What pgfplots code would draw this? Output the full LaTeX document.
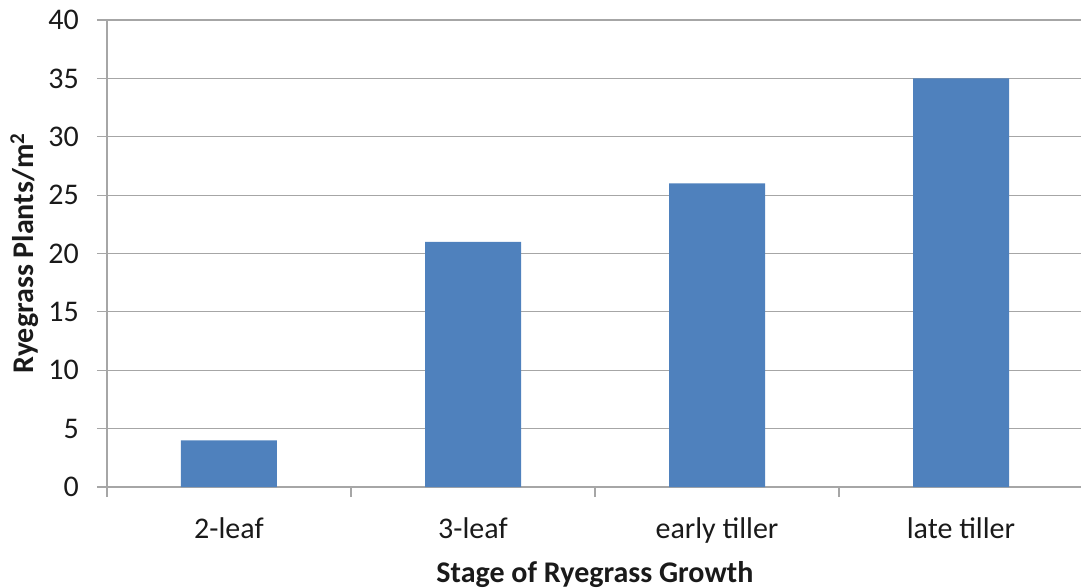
\documentclass[border=0pt]{standalone}
\usepackage{fontspec}
\setmainfont{Carlito}
\usepackage{pgfplots}
\pgfplotsset{compat=1.18}
\definecolor{barblue}{HTML}{4F81BD}
\definecolor{gridgray}{HTML}{A6A6A6}
\definecolor{txt}{HTML}{1A1A1A}
\begin{document}
\fontsize{30bp}{36bp}\selectfont
\begin{tikzpicture}
\path[use as bounding box] (-107bp,-101bp) rectangle (974bp,487bp);
\begin{axis}[
  at={(0,0)}, anchor=south west,
  scale only axis, width=976bp, height=467bp,
  xmin=0, xmax=4, ymin=0, ymax=40,
  axis lines*=left,
  axis line style={gridgray, line width=1.2bp},
  xtick={0.5,1.5,2.5,3.5},
  xticklabels={2-leaf,3-leaf,early tiller,late tiller},
  minor xtick={0,1,2,3,4},
  ytick={0,5,...,40},
  ymajorgrids,
  grid style={gridgray, line width=1.2bp},
  tick align=outside,
  major tick length=10bp,
  minor tick length=10bp,
  x tick style={draw=none},
  minor x tick style={draw=gridgray, line width=1.2bp},
  y tick style={draw=gridgray, line width=1.2bp},
  tick label style={font=\fontsize{30bp}{36bp}\selectfont, text=txt},
  /pgf/number format/assume math mode=true,
  yticklabel style={xshift=-8bp},
  xticklabel style={yshift=-10bp},
  xlabel={\textbf{Stage of Ryegrass Growth}},
  ylabel={\textbf{Ryegrass Plants/m\textsuperscript{2}}},
  ylabel shift={-10bp},
  xlabel shift={-2bp},
  label style={font=\fontsize{30bp}{36bp}\selectfont, text=txt},
  ybar, bar width=96bp,
  clip=false,
]
\addplot[fill=barblue, draw=none] coordinates {(0.5,4) (1.5,21) (2.5,26) (3.5,35)};
\end{axis}
\end{tikzpicture}
\end{document}
